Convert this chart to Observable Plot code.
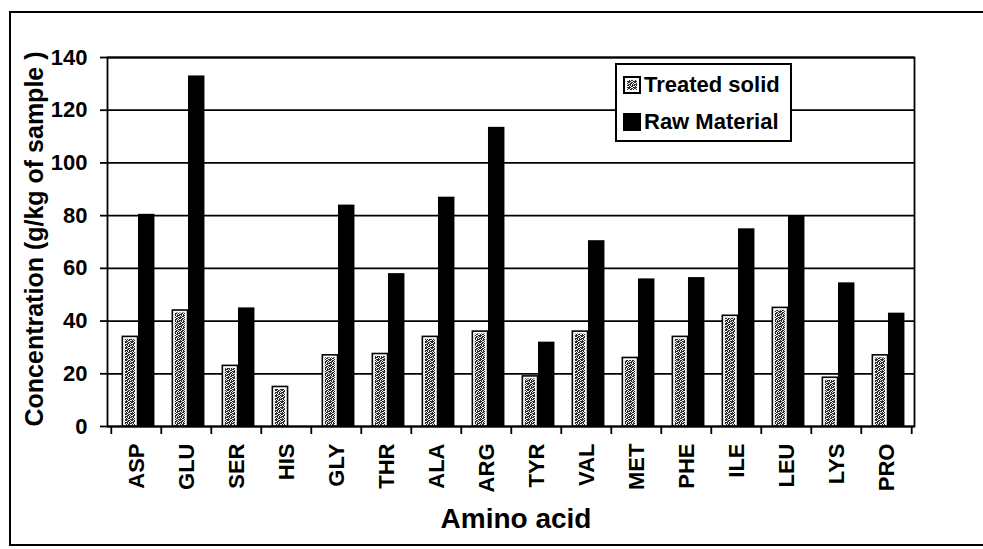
<!DOCTYPE html>
<html><head><meta charset="utf-8">
<script src="https://cdn.jsdelivr.net/npm/d3@7"></script>
<script src="https://cdn.jsdelivr.net/npm/@observablehq/plot@0.6"></script>
<style>
html,body{margin:0;padding:0;background:#fff;overflow:hidden}
#wrap{position:relative;width:983px;height:549px;overflow:hidden;font-family:"Liberation Sans",Arial,sans-serif;font-weight:bold}
#outer{position:absolute;left:0;top:0;width:983px;height:549px;pointer-events:none}
#chart svg line,#chart svg path{stroke-width:1.8px}
#legend{position:absolute;left:615px;top:63px;width:173px;height:75px;border:2px solid #000;background:#fff;font-size:22px;color:#000}
#legend .row{position:absolute;left:6px;height:22px;line-height:22px;white-space:nowrap}
#legend .sw{position:absolute;left:0;top:2px;width:18px;height:18px}
#legend .lab{position:absolute;left:21px;top:0}
</style></head>
<body>
<svg width="0" height="0" style="position:absolute">
  <defs>
    <pattern id="stipple" patternUnits="userSpaceOnUse" width="6" height="6">
      <rect width="6" height="6" fill="#f4f4f4"/>
    </pattern>
  </defs>
</svg>
<div id="wrap">
  <div id="chart"></div>
  <svg id="outer" viewBox="0 0 983 549"><path d="M990,12H10V545H990" fill="none" stroke="#000" stroke-width="2"/></svg>
  <div id="legend">
    <div class="row" style="top:9px"><svg class="sw" viewBox="0 0 18 18"><rect x="1" y="1" width="16" height="16" fill="#fff" stroke="#000" stroke-width="2"/><rect x="4" y="4" width="10" height="10" fill="url(#stipple)"/></svg><span class="lab">Treated solid</span></div>
    <div class="row" style="top:46px"><svg class="sw" viewBox="0 0 18 18"><rect x="0" y="0" width="18" height="18" fill="#000"/></svg><span class="lab">Raw Material</span></div>
  </div>
</div>
<script>
// speckle texture for the "Treated solid" fill
const speck = ["101101","011010","110101","010111","101100","110011"];
const pat = document.getElementById("stipple");
speck.forEach((row, r) => [...row].forEach((c, k) => {
  if (c === "1") {
    const el = document.createElementNS("http://www.w3.org/2000/svg", "rect");
    el.setAttribute("x", k); el.setAttribute("y", r);
    el.setAttribute("width", 1); el.setAttribute("height", 1);
    el.setAttribute("fill", "#2a2a2a");
    pat.appendChild(el);
  }
}));

const acids = ["ASP","GLU","SER","HIS","GLY","THR","ALA","ARG","TYR","VAL","MET","PHE","ILE","LEU","LYS","PRO"];
const treated = [34, 44, 23, 15, 27, 27.5, 34, 36, 19, 36, 26, 34, 42, 45, 18.5, 27];
const raw = [80.5, 133, 45, 0, 84, 58, 87, 113.5, 32, 70.5, 56, 56.5, 75, 80, 54.5, 43];
const yTicks = [0, 20, 40, 60, 80, 100, 120, 140];
const xTitle = "Amino acid";
const yTitle = "Concentration (g/kg of sample )";

const W = 983, H = 549, mL = 107, mR = 69, mT = 57, mB = 123;
const bw = (W - mL - mR) / acids.length;
const plotH = H - mT - mB;
const gap = 2.5;

const rows = acids.map((a, i) => ({acid: a, treated: treated[i], raw: raw[i]}));

const chart = Plot.plot({
  width: W, height: H,
  marginLeft: mL, marginRight: mR, marginTop: mT, marginBottom: mB,
  style: {fontFamily: '"Liberation Sans", Arial, sans-serif', fontSize: "22px", fontWeight: "bold", color: "#000", background: "transparent", overflow: "visible"},
  x: {domain: acids, padding: 0, tickRotate: -90, tickSize: 0, tickPadding: 17, label: null},
  y: {domain: [0, 140], ticks: 7, tickSize: 7, tickPadding: 13, label: null},
  marks: [
    Plot.ruleY(yTicks, {y: d => d, stroke: "#000", strokeWidth: 1.8}),
    Plot.barY(rows, {x: "acid", y: "treated", fill: "#fff", stroke: "#000", strokeWidth: 1.6,
      insetLeft: bw * 0.225, insetRight: bw * 0.465}),
    Plot.barY(rows, {x: "acid", y: "treated", fill: "url(#stipple)",
      insetLeft: bw * 0.225 + gap, insetRight: bw * 0.465 + gap, insetTop: gap, insetBottom: 1}),
    Plot.barY(rows, {x: "acid", y: "raw", fill: "#000",
      insetLeft: bw * 0.535, insetRight: bw * 0.13}),
    Plot.ruleX(acids, {x: d => d, dx: -bw / 2, insetTop: plotH, insetBottom: -8, stroke: "#000", strokeWidth: 1.8}),
    Plot.ruleX(acids.slice(-1), {x: d => d, dx: bw / 2, insetTop: plotH, insetBottom: -8, stroke: "#000", strokeWidth: 1.8}),
    Plot.frame({stroke: "#000", strokeWidth: 1.8}),
    Plot.text([xTitle], {frameAnchor: "bottom", text: d => d, textAnchor: "middle", lineAnchor: "middle", dy: 93, dx: 5, fontSize: 28, fontWeight: "bold"}),
    Plot.text([yTitle], {frameAnchor: "left", text: d => d, textAnchor: "middle", lineAnchor: "middle", rotate: -90, dx: -73, dy: -3, fontSize: 25, fontWeight: "bold"})
  ]
});
document.getElementById("chart").appendChild(chart);
</script>
</body></html>
